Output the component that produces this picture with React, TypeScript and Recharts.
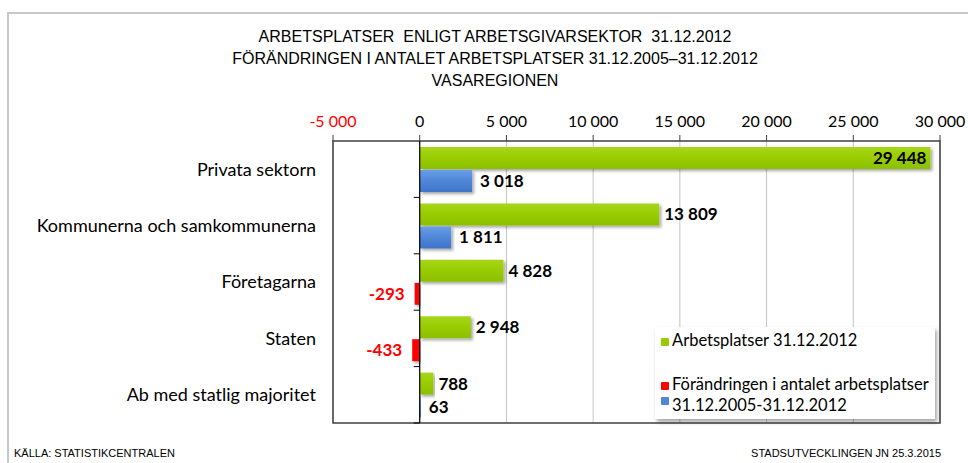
import React from "react";
import {
  BarChart,
  Bar,
  XAxis,
  YAxis,
  CartesianGrid,
  Cell,
  LabelList,
  ReferenceLine,
  ReferenceArea,
} from "recharts";

const titleLines = [
  "ARBETSPLATSER  ENLIGT ARBETSGIVARSEKTOR  31.12.2012",
  "FÖRÄNDRINGEN I ANTALET ARBETSPLATSER 31.12.2005–31.12.2012",
  "VASAREGIONEN",
];
const categories = [
  "Privata sektorn",
  "Kommunerna och samkommunerna",
  "Företagarna",
  "Staten",
  "Ab med statlig majoritet",
];
const arbetsplatser = [29448, 13809, 4828, 2948, 788];
const forandring = [3018, 1811, -293, -433, 63];
const xTicks = [-5000, 0, 5000, 10000, 15000, 20000, 25000, 30000];
const seriesNames = [
  "Arbetsplatser 31.12.2012",
  "Förändringen i antalet arbetsplatser",
  "31.12.2005-31.12.2012",
];
const sourceText = "KÄLLA: STATISTIKCENTRALEN";
const authorText = "STADSUTVECKLINGEN JN 25.3.2015";

const data = categories.map((name, i) => ({
  name,
  arbetsplatser: arbetsplatser[i],
  forandring: forandring[i],
}));

const fmt = (v: number) =>
  (v < 0 ? "-" : "") + String(Math.abs(v)).replace(/\B(?=(\d{3})+(?!\d))/g, " ");

const LABEL_FONT = "Lato, 'Open Sans', sans-serif";
const NARROW_FONT = "'Liberation Sans Narrow', 'Liberation Sans', sans-serif";

const XTick = (props: any) => {
  const { x, y, payload } = props;
  const v = payload.value as number;
  return (
    <text
      x={x}
      y={y}
      textAnchor="middle"
      fontFamily={LABEL_FONT}
      fontSize={16}
      fill={v < 0 ? "#FF0000" : "#000"}
    >
      {fmt(v)}
    </text>
  );
};

const GreenLabel = (props: any) => {
  const { x, y, width, height, value } = props;
  const right = Math.max(x, x + width);
  const inside = value > 25000;
  return (
    <text
      x={inside ? right - 4 : right + 5}
      y={y + height / 2 + 6}
      textAnchor={inside ? "end" : "start"}
      fontFamily={LABEL_FONT}
      fontWeight="bold"
      fontSize={17}
      fill="#000"
    >
      {fmt(value)}
    </text>
  );
};

const ChangeLabel = (props: any) => {
  const { x, y, width, height, value } = props;
  const left = Math.min(x, x + width);
  const right = Math.max(x, x + width);
  const neg = value < 0;
  return (
    <text
      x={neg ? left - 10 : right + 8}
      y={y + height / 2 + 6}
      textAnchor={neg ? "end" : "start"}
      fontFamily={LABEL_FONT}
      fontWeight="bold"
      fontSize={17}
      fill={neg ? "#FF0000" : "#000"}
    >
      {fmt(value)}
    </text>
  );
};

const ZeroLine = (p: any) => {
  const top = Math.min(p.y1, p.y2);
  const bottom = Math.max(p.y1, p.y2);
  const step = (bottom - top) / categories.length;
  const marks = [];
  for (let i = 1; i <= categories.length; i++) {
    const yy = top + step * i;
    marks.push(
      <line key={i} x1={p.x1 - 6} x2={p.x1} y1={yy} y2={yy} stroke="#000" strokeWidth={1} />
    );
  }
  return (
    <g>
      <line x1={p.x1} x2={p.x2} y1={p.y1} y2={p.y2} stroke="#000" strokeWidth={1.2} />
      {marks}
    </g>
  );
};

const Square = ({ color, lift = 0 }: { color: string; lift?: number }) => (
  <span
    style={{
      display: "inline-block",
      width: 8,
      height: 8,
      background: color,
      marginRight: 3,
      borderRadius: 1,
      position: "relative",
      top: -lift,
    }}
  />
);

export default function App() {
  return (
    <div
      style={{
        position: "absolute",
        left: 0,
        top: 0,
        width: 968,
        height: 463,
        background: "#fff",
        overflow: "hidden",
      }}
    >
      <div
        style={{
          position: "absolute",
          left: 7,
          top: 12,
          width: 1000,
          height: 500,
          borderTop: "2px solid #C8C8C8",
          borderLeft: "2px solid #C8C8C8",
        }}
      />
      <div
        style={{
          position: "absolute",
          left: 0,
          top: 26,
          width: 990,
          textAlign: "center",
          fontFamily: NARROW_FONT,
          fontSize: 16,
          lineHeight: "22px",
          color: "#000",
        }}
      >
        {titleLines.map((t, i) => (
          <div key={i} style={{ whiteSpace: "pre" }}>
            {t}
          </div>
        ))}
      </div>
      <div style={{ position: "absolute", left: 0, top: 0 }}>
        <BarChart
          layout="vertical"
          width={968}
          height={463}
          data={data}
          margin={{ top: 111, right: 28, bottom: 40, left: 0 }}
          barSize={22}
          barGap={1}
        >
          <defs>
            <linearGradient id="gGreen" x1="0" y1="0" x2="0" y2="1">
              <stop offset="0%" stopColor="#A6D61A" />
              <stop offset="50%" stopColor="#99CC00" />
              <stop offset="100%" stopColor="#8CBF00" />
            </linearGradient>
            <linearGradient id="gBlue" x1="0" y1="0" x2="0" y2="1">
              <stop offset="0%" stopColor="#6A9FE6" />
              <stop offset="50%" stopColor="#4F86D8" />
              <stop offset="100%" stopColor="#3F74C8" />
            </linearGradient>
            <filter id="shadow" x="-5%" y="-20%" width="115%" height="160%">
              <feDropShadow dx="2" dy="2" stdDeviation="1.5" floodColor="#000" floodOpacity="0.35" />
            </filter>
          </defs>
          <CartesianGrid horizontal={false} stroke="#C4C4C4" />
          <XAxis
            type="number"
            orientation="top"
            domain={[-5000, 30000]}
            ticks={xTicks}
            interval={0}
            height={30}
            tickSize={6}
            tickMargin={8}
            axisLine={false}
            tickLine={{ stroke: "#404040" }}
            tick={<XTick />}
            allowDataOverflow
          />
          <YAxis
            type="category"
            dataKey="name"
            width={333}
            interval={0}
            axisLine={false}
            tickLine={false}
            tickSize={0}
            tickMargin={17}
            tick={{ fill: "#000", fontSize: 18, fontFamily: LABEL_FONT }}
          />
          <ReferenceArea
            x1={-5000}
            x2={30000}
            fill="none"
            stroke="#404040"
            strokeWidth={1.5}
            ifOverflow="visible"
          />
          <Bar
            dataKey="arbetsplatser"
            name={seriesNames[0]}
            fill="url(#gGreen)"
            filter="url(#shadow)"
            isAnimationActive={false}
          >
            <LabelList dataKey="arbetsplatser" content={<GreenLabel />} />
          </Bar>
          <Bar
            dataKey="forandring"
            name={seriesNames[1]}
            filter="url(#shadow)"
            isAnimationActive={false}
          >
            {data.map((d, i) => (
              <Cell key={i} fill={d.forandring < 0 ? "#FF0000" : "url(#gBlue)"} />
            ))}
            <LabelList dataKey="forandring" content={<ChangeLabel />} />
          </Bar>
          <ReferenceLine x={0} ifOverflow="visible" shape={<ZeroLine />} />
        </BarChart>
      </div>
      <div
        style={{
          position: "absolute",
          left: 655,
          top: 327,
          width: 280,
          height: 92,
          background: "#fff",
          boxShadow: "2px 3px 4px rgba(0,0,0,0.35)",
          fontFamily: LABEL_FONT,
          fontSize: 16.5,
          color: "#000",
          lineHeight: "22px",
        }}
      >
        <div style={{ position: "absolute", left: 6, top: 2, whiteSpace: "nowrap" }}>
          <Square color="#99CC00" />
          {seriesNames[0]}
        </div>
        <div style={{ position: "absolute", left: 6, top: 46, whiteSpace: "nowrap" }}>
          <Square color="#FF0000" />
          {seriesNames[1]}
        </div>
        <div style={{ position: "absolute", left: 6, top: 67, whiteSpace: "nowrap" }}>
          <Square color="#4F86D8" lift={6} />
          {seriesNames[2]}
        </div>
      </div>
      <div
        style={{
          position: "absolute",
          left: 14,
          top: 447,
          fontFamily: NARROW_FONT,
          fontSize: 11,
          color: "#000",
        }}
      >
        {sourceText}
      </div>
      <div
        style={{
          position: "absolute",
          right: 27,
          top: 447,
          fontFamily: NARROW_FONT,
          fontSize: 11,
          color: "#000",
        }}
      >
        {authorText}
      </div>
    </div>
  );
}
